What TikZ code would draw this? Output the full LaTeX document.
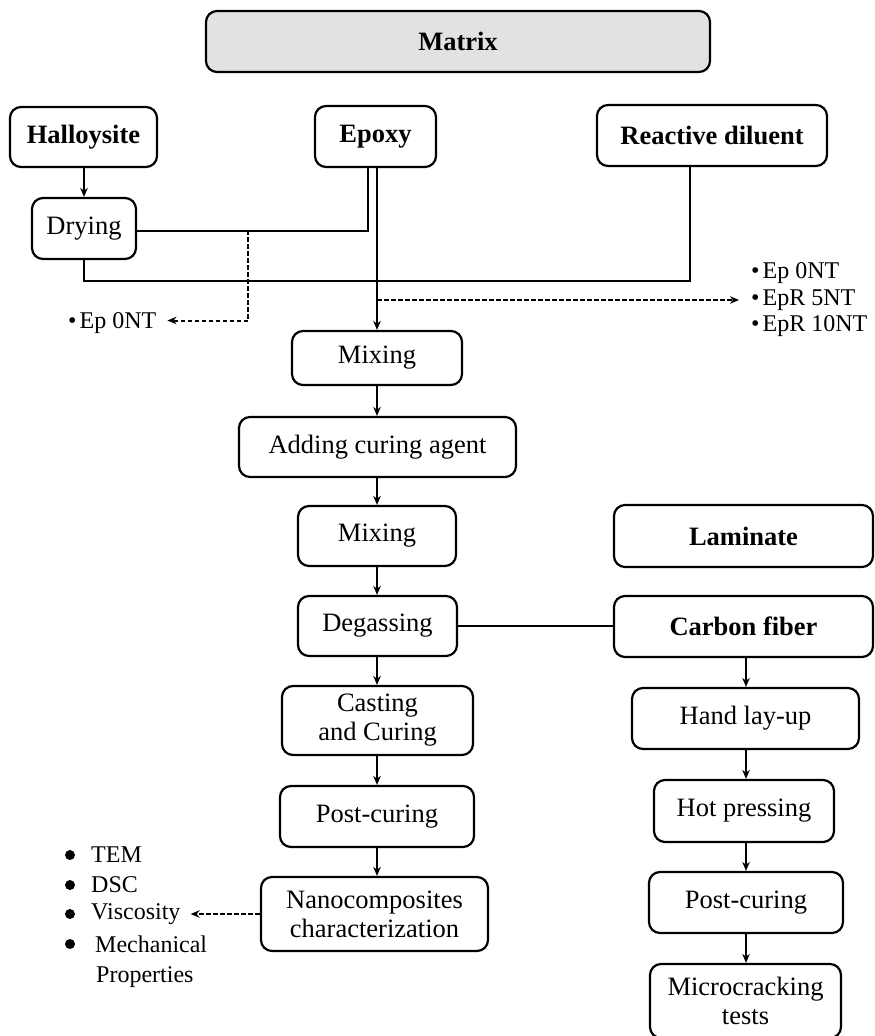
\documentclass[tikz,border=0pt]{standalone}
\usepackage{fontspec}
\setmainfont{Liberation Serif}
\usetikzlibrary{arrows.meta}
\definecolor{matfill}{RGB}{226,226,226}
\tikzset{
  box/.style={draw, line width=2.2pt, rounded corners=11pt, align=center, inner sep=0pt,
              font=\fontsize{26.5}{29}\selectfont},
  bbox/.style={box, font=\fontsize{26.5}{29}\selectfont\bfseries},
  conn/.style={line width=2pt},
  arr/.style={conn, -{Stealth[length=9pt,width=7.5pt]}},
  darr/.style={conn, dash pattern=on 4.5pt off 2.5pt, -{Stealth[length=9pt,width=7.5pt]}},
  dline/.style={conn, dash pattern=on 4.5pt off 2.5pt},
  lbl/.style={inner sep=0pt, anchor=west, font=\fontsize{24}{28}\selectfont},
}
\begin{document}
\begin{tikzpicture}[x=1pt,y=-1pt]
\useasboundingbox (0,0) rectangle (875,1036);
\clip (0,0) rectangle (875,1036);

% Matrix branch
\node[bbox, fill=matfill, minimum width=504pt, minimum height=61pt] (mat) at (458,41.5) {Matrix};
\node[bbox, minimum width=147pt, minimum height=60pt] (hal) at (83.5,137) {Halloysite};
\node[bbox, minimum width=121pt, minimum height=61pt] (epo) at (375.5,136.5) {Epoxy};
\node[bbox, minimum width=230pt, minimum height=61pt] (rd) at (712,135.5) {Reactive diluent};
\node[box, minimum width=104pt, minimum height=61pt] (dry) at (84,228.5) {Drying};

\node[box, minimum width=170pt, minimum height=54pt] (mix1) at (377,358) {Mixing};
\node[box, minimum width=277pt, minimum height=60pt] (add) at (377.5,447) {Adding curing agent};
\node[box, minimum width=158pt, minimum height=60pt] (mix2) at (377,536) {Mixing};
\node[box, minimum width=159pt, minimum height=60pt] (deg) at (377.5,626) {Degassing};
\node[box, minimum width=191pt, minimum height=69pt] (cast) at (377.5,720.5) {Casting\\and Curing};
\node[box, minimum width=194pt, minimum height=61pt] (pc1) at (377,816.5) {Post-curing};
\node[box, minimum width=227pt, minimum height=74pt] (nano) at (374.5,914) {Nanocomposites\\characterization};

% Laminate branch
\node[bbox, minimum width=259pt, minimum height=62pt] (lam) at (743.5,536) {Laminate};
\node[bbox, minimum width=259pt, minimum height=61pt] (cf) at (743.5,626.5) {Carbon fiber};
\node[box, minimum width=227pt, minimum height=61pt] (hl) at (745.5,718.5) {Hand lay-up};
\node[box, minimum width=180pt, minimum height=62pt] (hp) at (744,811) {Hot pressing};
\node[box, minimum width=194pt, minimum height=61pt] (pc2) at (746,902.5) {Post-curing};
\node[box, minimum width=191pt, minimum height=74pt] (mc) at (745.5,1001) {Microcracking\\tests};

% labels
\node[lbl] (epl) at (68,323) {\textbullet\hspace{3pt}Ep 0NT};
\node[lbl] (r1) at (751,273) {\textbullet\hspace{3pt}Ep 0NT};
\node[lbl] (r2) at (751,300) {\textbullet\hspace{3pt}EpR 5NT};
\node[lbl] (r3) at (751,326) {\textbullet\hspace{3pt}EpR 10NT};

\fill (70,855) circle (5pt);
\fill (70,885) circle (5pt);
\fill (70,914) circle (5pt);
\fill (70,944) circle (5pt);
\node[lbl] (tem) at (91,855) {TEM};
\node[lbl] (dsc) at (91,885) {DSC};
\node[lbl] (visc) at (91,914) {Viscosity};
\node[lbl] (mech) at (95,944) {Mechanical};
\node[lbl] (prop) at (96,977) {Properties};

% coordinates
\coordinate (eL) at (367.5,167);
\coordinate (rdL) at (689.5,166);
\coordinate (j1) at (248,230);
\coordinate (j2) at (377,300);
\coordinate (j3) at (248,320.5);

% connectors
\draw[arr] (hal.south -| dry.north) -- (dry.north);
\draw[conn] ([yshift=-2pt]dry.east) -| (eL);
\draw[conn] (dry.south) -- ++(0,20.5) -| (rdL);
\draw[dline] (j1) -- (j3);
\draw[darr] (j3) -- ([xshift=11pt]epl.east |- j3);
\draw[arr] (mix1.north |- epo.south) -- (mix1.north);
\draw[darr] (j2) -- ([xshift=-12pt]r2.west);

\draw[arr] (mix1.south) -- (mix1.south |- add.north);
\draw[arr] (add.south -| mix2.north) -- (mix2.north);
\draw[arr] (mix2.south) -- (mix2.south |- deg.north);
\draw[arr] (deg.south -| mix2.south) -- (mix2.south |- cast.north);
\draw[arr] (cast.south -| mix2.south) -- (mix2.south |- pc1.north);
\draw[arr] (pc1.south) -- (pc1.south |- nano.north);
\draw[darr] (nano.west) -- ([xshift=10pt]visc.east);

\draw[conn] (deg.east) -- (deg.east -| cf.west);
\draw[arr] (cf.south -| 746,0) -- (hl.north -| 746,0);
\draw[arr] (hl.south -| 746,0) -- (hp.north -| 746,0);
\draw[arr] (hp.south -| 746,0) -- (pc2.north -| 746,0);
\draw[arr] (pc2.south -| 746,0) -- (mc.north -| 746,0);
\end{tikzpicture}
\end{document}
